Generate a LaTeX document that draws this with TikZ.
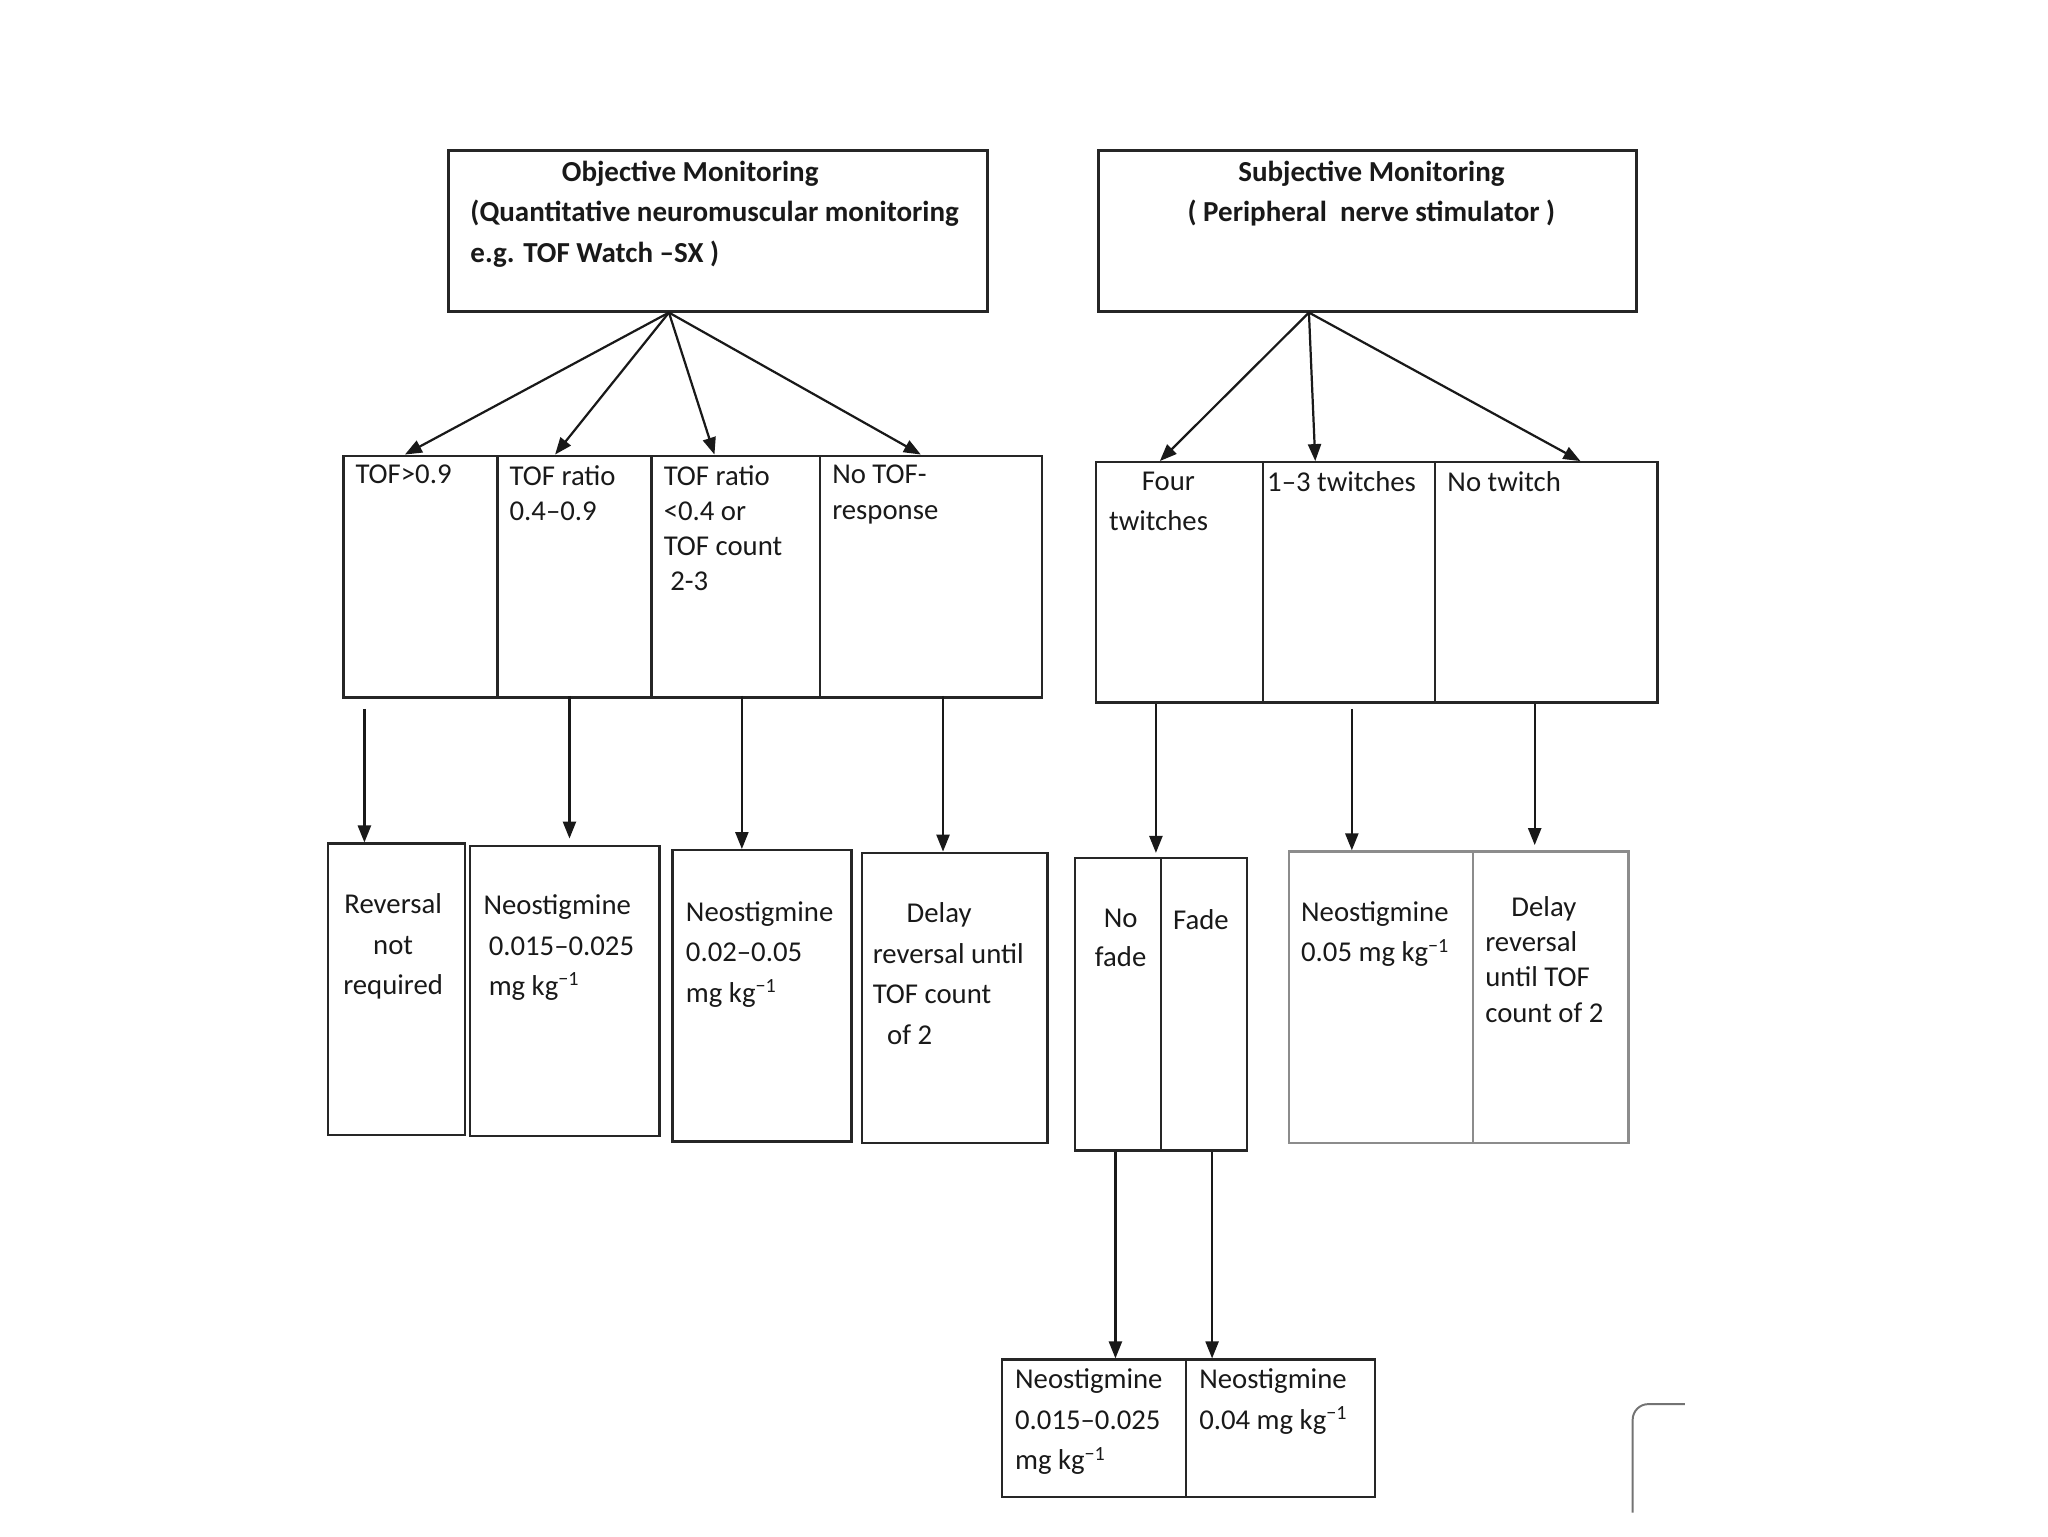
\documentclass[tikz,border=0pt]{standalone}
\usepackage{fontspec}
\setmainfont{Carlito}
\usetikzlibrary{arrows.meta,calc}
\begin{document}
\begin{tikzpicture}[x=1pt,y=-1pt,
  box/.style={draw=black!85, line width=1.8pt, rectangle, inner sep=0pt, anchor=north west},
  topbox/.style={box, line width=2.3pt},
  gbox/.style={box, draw=black!45},
  txt/.style={inner sep=0pt, anchor=north west, align=left, text=black!90, font=\fontsize{22}{27}\selectfont},
  txtw/.style={txt, font=\fontsize{22}{31}\selectfont},
  hdr/.style={txt, font=\bfseries\fontsize{22.2}{31}\selectfont},
  arr/.style={line width=1.7pt, draw=black!90, -{Triangle[length=13pt,width=10pt]}},
]
\useasboundingbox (0,0) rectangle (1568,1176);
\newcommand{\kgm}{mg kg\textsuperscript{−1}}

% top boxes
\node[topbox, minimum width=413pt, minimum height=123pt] (obj) at (342,114) {};
\node[topbox, minimum width=412pt, minimum height=123pt] (subj) at (840,114) {};
\node[hdr] (tObj) at (360,123) {\hspace*{70pt}Objective Monitoring\\(Quantitative neuromuscular monitoring\\e.g. TOF Watch –SX )};
\node[hdr, anchor=north, align=center] (tSubj) at (1050,123) {Subjective Monitoring\\( Peripheral\ \ nerve stimulator )};

% row 2 left
\node[box, minimum width=118pt, minimum height=185pt] (c1) at (262,348) {};
\node[box, minimum width=118pt, minimum height=185pt] (c2) at (380,348) {};
\node[box, minimum width=129pt, minimum height=185pt] (c3) at (498,348) {};
\node[box, minimum width=170pt, minimum height=185pt] (c4) at (627,348) {};
\node[txt] (t1) at (272,356) {TOF>0.9};
\node[txt] (t2) at (390,356) {TOF ratio\\0.4–0.9};
\node[txt] (t3) at (508,356) {TOF ratio\\<0.4 or\\TOF count\\\hspace*{5pt}2-3};
\node[txt] (t4) at (637,356) {No TOF-\\response};

% row 2 right
\node[box, minimum width=128pt, minimum height=184pt] (d1) at (838,353) {};
\node[box, minimum width=132pt, minimum height=184pt] (d2) at (966,353) {};
\node[box, minimum width=170pt, minimum height=184pt] (d3) at (1098,353) {};
\node[txtw] (u1) at (849,361) {\hspace*{25pt}Four\\twitches};
\node[txt] (u2) at (970,361) {1–3 twitches};
\node[txt] (u3) at (1108,361) {No twitch};

% row 3 left
\node[box, minimum width=105pt, minimum height=223pt] (r1) at (250,645) {};
\node[box, minimum width=145pt, minimum height=222pt] (r2) at (359,647) {};
\node[box, minimum width=137pt, minimum height=223pt] (r3) at (514,650) {};
\node[box, minimum width=142pt, minimum height=222pt] (r4) at (659,652) {};
\node[txtw, anchor=north, align=center] (s1) at (301,684) {Reversal\\not\\required};
\node[txtw] (s2) at (370,685) {Neostigmine\\\hspace*{4pt}0.015–0.025\\\hspace*{4pt}\kgm};
\node[txtw] (s3) at (525,690) {Neostigmine\\0.02–0.05\\\kgm};
\node[txtw] (s4) at (668,691) {\hspace*{26pt}Delay\\reversal until\\TOF count\\\hspace*{11pt}of 2};

% row 3 right
\node[box, minimum width=66pt, minimum height=224pt] (f1) at (822,656) {};
\node[box, minimum width=66pt, minimum height=224pt] (f2) at (888,656) {};
\node[txt, anchor=north, align=center, font=\fontsize{22}{30}\selectfont] (n1) at (858,696) {No\\fade};
\node[txt] (n2) at (898,696) {Fade};
\node[gbox, minimum width=141pt, minimum height=223pt] (g1) at (986,651) {};
\node[gbox, minimum width=119pt, minimum height=223pt] (g2) at (1127,651) {};
\node[txtw] (m1) at (996,690) {Neostigmine\\0.05 \kgm};
\node[txt] (m2) at (1137,686) {\hspace*{20pt}Delay\\reversal\\until TOF\\count of 2};

% bottom
\node[box, minimum width=141pt, minimum height=105pt] (b1) at (766,1040) {};
\node[box, minimum width=145pt, minimum height=105pt] (b2) at (907,1040) {};
\node[txtw] (p1) at (777,1048) {Neostigmine\\0.015–0.025\\\kgm};
\node[txtw] (p2) at (918,1048) {Neostigmine\\0.04 \kgm};

% arrows from top boxes
\coordinate (os) at ([xshift=-37.5pt]obj.south);
\draw[arr] (os) -- ($(c1.north west)+(48,0)$);
\draw[arr] (os) -- ($(c2.north west)+(45,0)$);
\draw[arr] (os) -- ($(c3.north west)+(49,0)$);
\draw[arr] (os) -- ($(c4.north west)+(78,0)$);
\coordinate (ss) at ([xshift=-45pt]subj.south);
\draw[arr] (ss) -- ($(d1.north west)+(50,0)$);
\draw[arr] (ss) -- ($(d2.north west)+(41,0)$);
\draw[arr] (ss) -- ($(d3.north west)+(112,0)$);

% down arrows
\coordinate (a1) at ($(c1.south west)+(17,8)$);
\coordinate (a2) at ($(c2.south west)+(56,-2)$);
\coordinate (a3) at ($(c3.south west)+(70,-2)$);
\coordinate (a4) at ($(c4.south west)+(95,-2)$);
\draw[arr] (a1) -- (a1 |- r1.north);
\draw[arr] (a2) -- ($(a2 |- r2.north)+(0,-5)$);
\draw[arr] (a3) -- (a3 |- r3.north);
\draw[arr] (a4) -- (a4 |- r4.north);
\coordinate (e1) at ($(d1.south west)+(47,0)$);
\coordinate (e2) at ($(d2.south west)+(69,4)$);
\coordinate (e3) at ($(d3.south west)+(77,0)$);
\draw[arr] (e1) -- ($(e1 |- f1.north)+(0,-3)$);
\draw[arr] (e2) -- (e2 |- g1.north);
\draw[arr] (e3) -- ($(e3 |- g2.north)+(0,-4)$);
\coordinate (h1) at ($(f1.south west)+(32,0)$);
\coordinate (h2) at ($(f2.south west)+(40,0)$);
\draw[arr] (h1) -- (h1 |- b1.north);
\draw[arr] (h2) -- (h2 |- b2.north);

% cut-off widget at bottom right
\draw[black!55, line width=1.5pt, rounded corners=12pt] (1290,1075) -- (1250,1075) -- (1250,1158);
\end{tikzpicture}
\end{document}
